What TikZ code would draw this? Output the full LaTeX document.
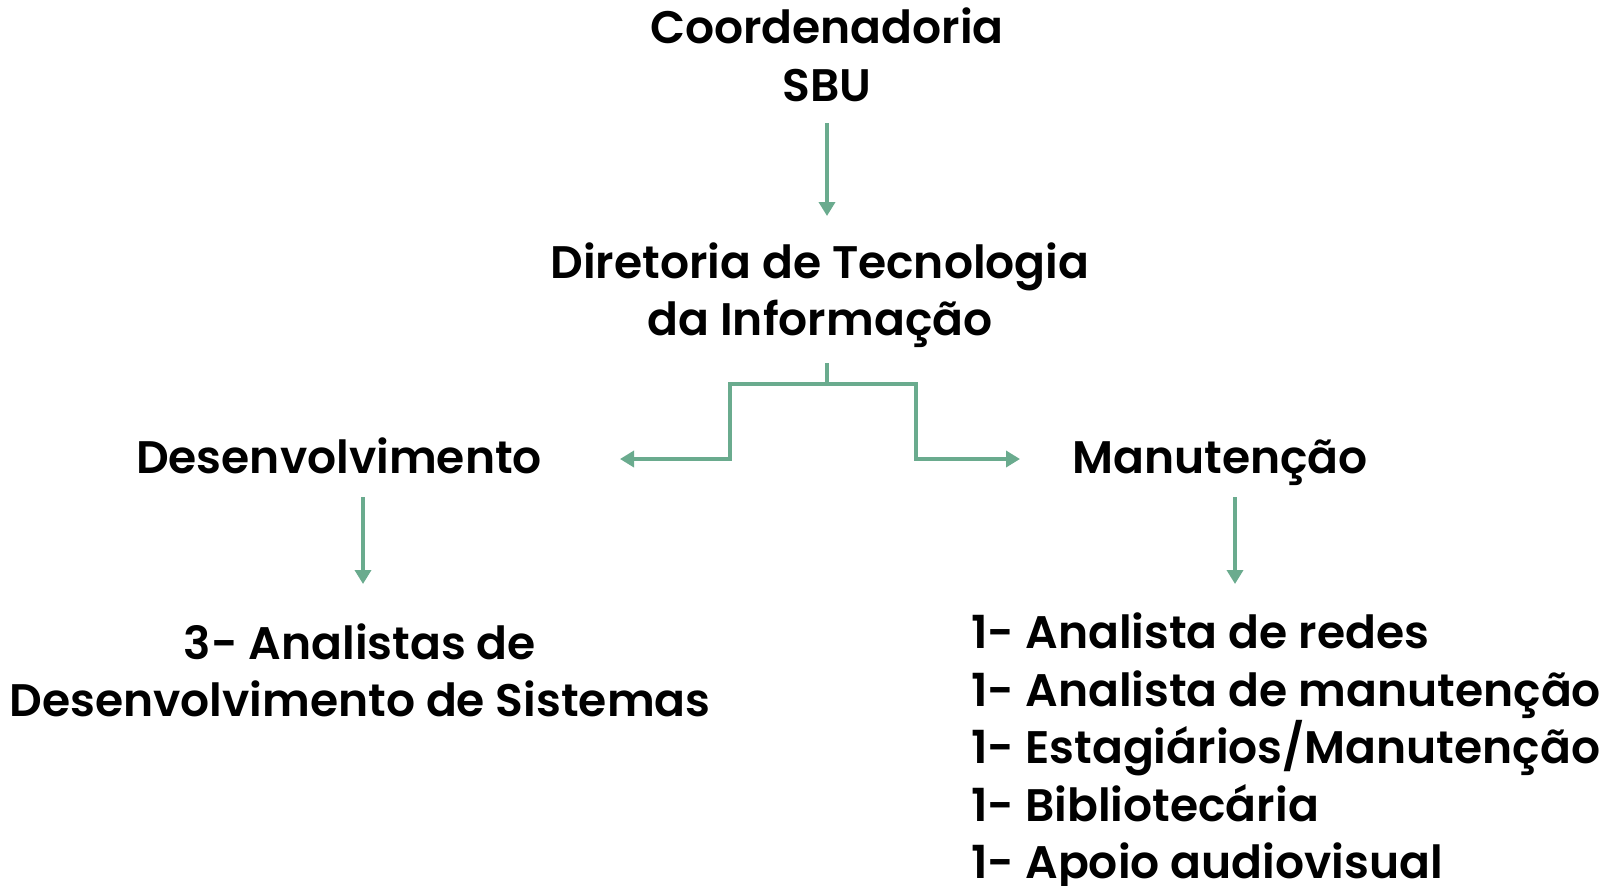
\documentclass[tikz,border=0pt]{standalone}
\usepackage{fontspec}
\setmainfont{Poppins}[BoldFont={* SemiBold}]
\usetikzlibrary{arrows.meta}
\definecolor{arr}{HTML}{6AAB8E}
\begin{document}
\begin{tikzpicture}[x=0.5pt,y=-0.5pt,
  lbl/.style={font=\fontsize{22.8}{28.75}\selectfont\bfseries, inner sep=0pt, align=center},
  conn/.style={draw=arr, line width=2pt, line join=miter, -{Triangle[width=8pt,length=7pt]}},
  plain/.style={draw=arr, line width=2pt}]
\useasboundingbox (0,0) rectangle (1611,885);
\node[lbl] (coord) at (827,55) {Coordenadoria\\SBU};
\node[lbl] (dir) at (820,295) {Diretoria de Tecnologia\\da Informação};
\node[lbl, anchor=base] (des) at (339,473) {Desenvolvimento};
\node[lbl, anchor=base] (man) at (1220,473) {Manutenção};
\node[lbl] (ana) at (360,670.5) {3- Analistas de\\Desenvolvimento de Sistemas};
\node[lbl, align=left, anchor=west] (lst) at (971,752) {1- Analista de redes\\1- Analista de manutenção\\1- Estagiários/Manutenção\\1- Bibliotecária\\1- Apoio audiovisual};
\coordinate (c1a) at (827,123);
\coordinate (c1b) at (827,216);
\draw[conn] (c1a) -- (c1b);
\coordinate (st) at (827,363);
\coordinate (sb) at (827,384);
\draw[plain] (st) -- (sb);
\coordinate (hl) at (730,384);
\coordinate (hr) at (916,384);
\coordinate (ll) at (620,459);
\coordinate (rr) at (1020,459);
\draw[conn] (sb) -- (hl) |- (ll);
\draw[conn] (sb) -- (hr) |- (rr);
\coordinate (d1) at (363,497);
\coordinate (d2) at (363,584);
\draw[conn] (d1) -- (d2);
\coordinate (m1) at (1235,497);
\coordinate (m2) at (1235,584);
\draw[conn] (m1) -- (m2);
\end{tikzpicture}
\end{document}
